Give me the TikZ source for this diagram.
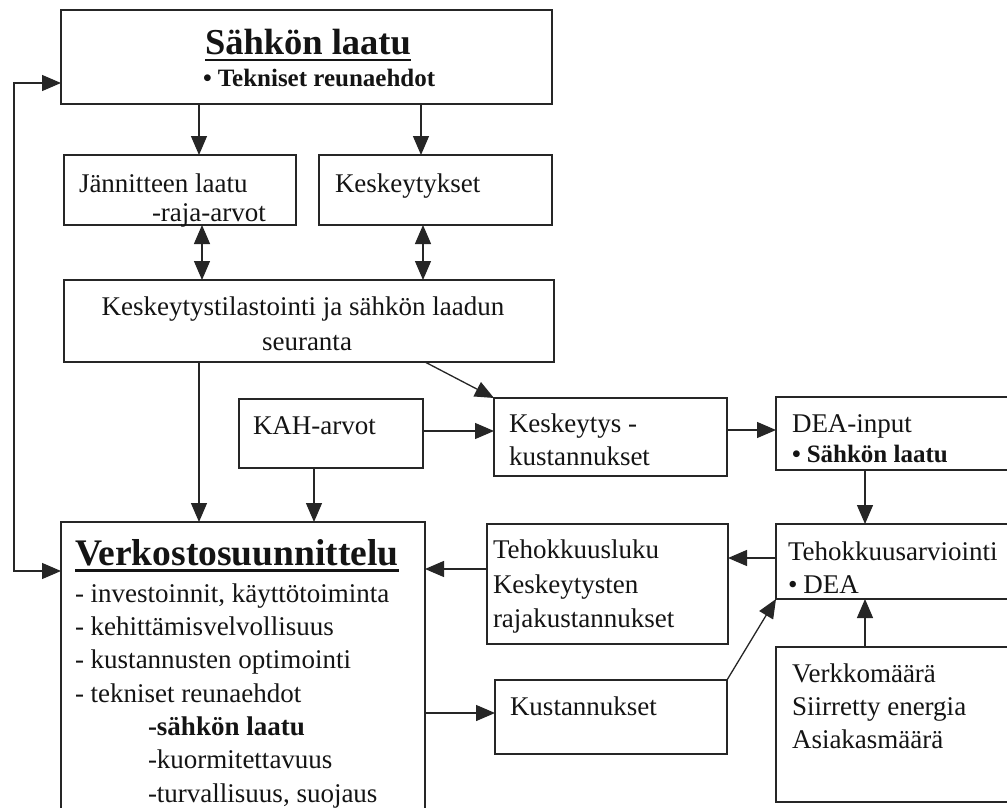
\documentclass[tikz,border=0pt]{standalone}
\usepackage{fontspec}
\setmainfont{Liberation Serif}
\usetikzlibrary{arrows.meta}
\begin{document}
\begin{tikzpicture}[x=1pt,y=-1pt,
  box/.style={draw=black!85, line width=1.3pt, inner sep=0pt, outer sep=0pt, anchor=north west},
  thickbox/.style={box, line width=2.4pt},
  txt/.style={anchor=base west, inner sep=0pt, outer sep=0pt, text=black!92, font=\fontsize{27}{32}\selectfont},
  ctxt/.style={txt, anchor=base},
  btxt/.style={txt, font=\fontsize{25}{30}\selectfont\bfseries},
  bbtxt/.style={txt, font=\fontsize{27}{32}\selectfont\bfseries},
  title/.style={txt, font=\fontsize{36.5}{40}\selectfont\bfseries},
  uline/.style={line width=2.8pt, draw=black!92},
  arr/.style={-{Triangle[length=19pt,width=16pt]}, line width=1.3pt, draw=black!85},
  darr/.style={{Triangle[length=19pt,width=16pt]}-{Triangle[length=19pt,width=16pt]}, line width=1.3pt, draw=black!85}
]
\useasboundingbox (0,0) rectangle (1007,808);
\clip (0,0) rectangle (1007,808);
\fill[white] (0,0) rectangle (1007,808);

% boxes
\node[thickbox, minimum width=491pt, minimum height=94pt] (top) at (61,10) {};
\node[box, minimum width=232pt, minimum height=70pt] (jan) at (64,155) {};
\node[box, minimum width=233pt, minimum height=70pt] (kes) at (319,155) {};
\node[box, minimum width=490pt, minimum height=82pt] (stat) at (64,280) {};
\node[box, minimum width=184pt, minimum height=69pt] (kah) at (239,399) {};
\node[box, minimum width=233pt, minimum height=78pt] (kk) at (494,398) {};
\node[box, minimum width=260pt, minimum height=73pt] (dea) at (776,397) {};
\node[box, minimum width=260pt, minimum height=75pt] (teho) at (776,524) {};
\node[box, minimum width=241pt, minimum height=120pt] (tl) at (487,524) {};
\node[box, minimum width=364pt, minimum height=300pt] (verk) at (61,522) {};
\node[box, minimum width=232pt, minimum height=74pt] (kust) at (495,680) {};
\node[box, minimum width=260pt, minimum height=155pt] (vm) at (776,647) {};

% texts
\node[title] (t1) at (205,55) {Sähkön laatu};
\draw[uline] ([yshift=-5pt]t1.base west) -- ([yshift=-5pt]t1.base east);
\node[btxt] (t2) at (203,86) {•\hspace{6pt}Tekniset reunaehdot};

\node[txt] (j1) at (79,192) {Jännitteen laatu};
\node[txt] (j2) at (152,221) {-raja-arvot};
\node[txt] (k1) at (335,192) {Keskeytykset};

\node[ctxt] (s1) at (303,315) {Keskeytystilastointi ja sähkön laadun};
\node[ctxt] (s2) at (307,350) {seuranta};

\node[txt] (a1) at (253,434) {KAH-arvot};
\node[txt] (kk1) at (509,432) {Keskeytys -};
\node[txt] (kk2) at (509,465) {kustannukset};

\node[txt] (d1) at (792,432) {DEA-input};
\node[btxt] (d2) at (792,462) {•\hspace{6pt}Sähkön laatu};

\node[txt] (e1) at (788,560) {Tehokkuusarviointi};
\node[txt] (e2) at (788,593) {•\hspace{6pt}DEA};

\node[txt] (l1) at (493,558) {Tehokkuusluku};
\node[txt] (l2) at (493,593) {Keskeytysten};
\node[txt] (l3) at (493,627) {rajakustannukset};

\node[txt] (c1) at (510,715) {Kustannukset};

\node[txt] (m1) at (792,682) {Verkkomäärä};
\node[txt] (m2) at (792,715) {Siirretty energia};
\node[txt] (m3) at (792,748) {Asiakasmäärä};

\node[title, font=\fontsize{37.5}{40}\selectfont\bfseries] (v0) at (75,565) {Verkostosuunnittelu};
\draw[uline] ([yshift=-5.5pt]v0.base west) -- ([yshift=-5.5pt]v0.base east);
\node[txt] (v1) at (75,602) {- investoinnit, käyttötoiminta};
\node[txt] (v2) at (75,635) {- kehittämisvelvollisuus};
\node[txt] (v3) at (75,668) {- kustannusten optimointi};
\node[txt] (v4) at (75,702) {- tekniset reunaehdot};
\node[bbtxt] (v5) at (148,735) {-sähkön laatu};
\node[txt] (v6) at (148,768) {-kuormitettavuus};
\node[txt] (v7) at (148,802) {-turvallisuus, suojaus};

% connectors
\draw[arr] (199,0 |- top.south) -- (199,0 |- jan.north);
\draw[arr] (421,0 |- top.south) -- (421,0 |- kes.north);
\draw[darr] (202,0 |- jan.south) -- (202,0 |- stat.north);
\draw[darr] (423,0 |- kes.south) -- (423,0 |- stat.north);
\draw[arr] (199,0 |- stat.south) -- (199,0 |- verk.north);
\draw[arr] (425,0 |- stat.south) -- (kk.north west);
\draw[arr] (314,0 |- kah.south) -- (314,0 |- verk.north);
\draw[arr] (kah.east |- 0,431) -- (kk.west |- 0,431);
\draw[arr] (kk.east |- 0,430) -- (dea.west |- 0,430);
\draw[arr] (865,0 |- dea.south) -- (865,0 |- teho.north);
\draw[arr] (teho.west |- 0,558) -- (tl.east |- 0,558);
\draw[arr] (tl.west |- 0,569) -- (verk.east |- 0,569);
\draw[arr] (verk.east |- 0,713) -- (kust.west |- 0,713);
\draw[arr] (kust.north east) -- (teho.south west);
\draw[arr] (865,0 |- vm.north) -- (865,0 |- teho.south);
\coordinate (fbA) at (14,83);
\coordinate (fbB) at (14,571);
\draw[darr] (top.west |- fbA) -- (fbA) -- (fbB) -- (verk.west |- fbB);
\end{tikzpicture}
\end{document}
